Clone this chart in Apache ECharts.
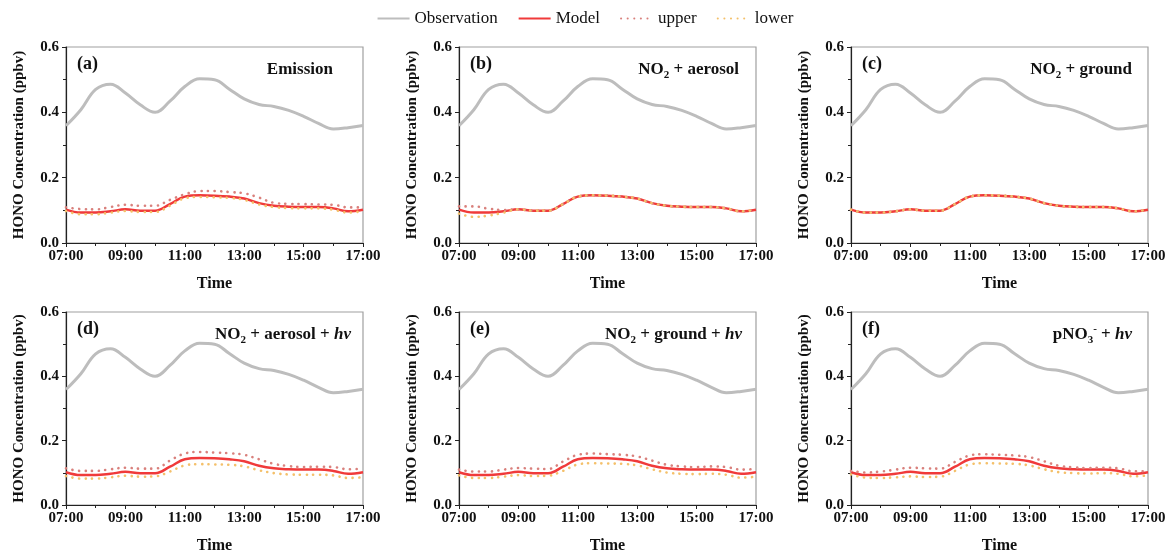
<!DOCTYPE html>
<html><head><meta charset="utf-8">
<script src="https://cdn.jsdelivr.net/npm/echarts@6/dist/echarts.min.js"></script>
<style>html,body{margin:0;padding:0;background:#fff}#c{width:1170px;height:555px}</style>
</head><body><div id="c"></div>
<script>
const times = ['07:00','07:30','08:00','08:30','09:00','09:30','10:00','10:30','11:00','11:30','12:00','12:30','13:00','13:30','14:00','14:30','15:00','15:30','16:00','16:30','17:00'];
const xTicks = ['07:00','09:00','11:00','13:00','15:00','17:00'];
const yTicks = [0.0, 0.2, 0.4, 0.6];
const observation = [0.359,0.408,0.470,0.486,0.459,0.423,0.400,0.434,0.479,0.503,0.500,0.471,0.441,0.424,0.418,0.406,0.388,0.366,0.349,0.353,0.360];
const model = [0.102,0.093,0.093,0.097,0.103,0.099,0.099,0.119,0.142,0.146,0.145,0.142,0.136,0.122,0.114,0.111,0.110,0.110,0.106,0.097,0.102];
const upperA = [0.109,0.104,0.103,0.110,0.117,0.114,0.114,0.132,0.149,0.159,0.159,0.156,0.152,0.139,0.123,0.120,0.119,0.118,0.117,0.109,0.109];
const lowerA = [0.098,0.088,0.088,0.093,0.098,0.095,0.095,0.114,0.137,0.141,0.140,0.138,0.132,0.118,0.110,0.107,0.106,0.106,0.102,0.093,0.098];
const upperB = [0.112,0.112,0.105,0.101,0.103,0.099,0.099,0.119,0.142,0.146,0.145,0.142,0.136,0.122,0.114,0.111,0.110,0.110,0.106,0.097,0.102];
const lowerB = [0.090,0.080,0.084,0.093,0.103,0.099,0.099,0.119,0.142,0.146,0.145,0.142,0.136,0.122,0.114,0.111,0.110,0.110,0.106,0.097,0.102];
const upperC = model.slice();
const lowerC = model.slice();
const upperD = [0.114,0.106,0.106,0.111,0.116,0.113,0.113,0.138,0.160,0.165,0.163,0.161,0.156,0.142,0.128,0.121,0.118,0.119,0.118,0.111,0.113];
const lowerD = [0.090,0.082,0.082,0.086,0.091,0.088,0.089,0.104,0.123,0.127,0.126,0.125,0.120,0.108,0.099,0.095,0.094,0.094,0.092,0.084,0.086];
const upperE = [0.110,0.104,0.104,0.110,0.115,0.113,0.112,0.135,0.156,0.160,0.158,0.156,0.151,0.138,0.125,0.120,0.118,0.120,0.118,0.110,0.112];
const lowerE = [0.092,0.084,0.084,0.088,0.093,0.090,0.091,0.106,0.126,0.130,0.129,0.128,0.123,0.111,0.101,0.097,0.096,0.097,0.094,0.085,0.088];
const upperF = [0.106,0.101,0.104,0.110,0.116,0.114,0.113,0.134,0.154,0.158,0.156,0.154,0.149,0.136,0.122,0.117,0.115,0.116,0.114,0.105,0.105];
const lowerF = [0.095,0.085,0.084,0.086,0.089,0.087,0.088,0.106,0.126,0.130,0.129,0.128,0.123,0.111,0.102,0.099,0.098,0.099,0.097,0.089,0.092];

const panels = [
  {label:'(a)', title:'{b|Emission}', up:upperA, lo:lowerA, pad:25},
  {label:'(b)', title:'{b|NO}{sub|2}{b| + aerosol}', up:upperB, lo:lowerB, pad:12},
  {label:'(c)', title:'{b|NO}{sub|2}{b| + ground}', up:upperC, lo:lowerC, pad:11},
  {label:'(d)', title:'{b|NO}{sub|2}{b| + aerosol + }{i|hv}', up:upperD, lo:lowerD, pad:7},
  {label:'(e)', title:'{b|NO}{sub|2}{b| + ground + }{i|hv}', up:upperE, lo:lowerE, pad:9},
  {label:'(f)', title:'{b|pNO}{sub|3}{sup|-}{b| + }{i|hv}', up:upperF, lo:lowerF, pad:11}
];

const FONT = '"Liberation Serif", "Times New Roman", serif';
const lefts = [66, 459, 851];
const tops = [47, 312];
const W = 297, H = 196;
const SMOOTH = 0.4;
const toHour = t => { const p = t.split(':'); return +p[0] + (+p[1])/60; };
const pairs = arr => arr.map((v,i)=>[toHour(times[i]), v]);
const xMin = toHour(xTicks[0]), xMax = toHour(xTicks[xTicks.length-1]);

const grids=[], xAxes=[], yAxes=[], series=[], titles=[];
const rich = {
  b:{fontFamily:FONT,fontWeight:'bold',fontSize:17,color:'#111',lineHeight:22},
  i:{fontFamily:FONT,fontWeight:'bold',fontStyle:'italic',fontSize:17,color:'#111',lineHeight:22},
  sub:{fontFamily:FONT,fontWeight:'bold',fontSize:11,color:'#111',lineHeight:12,verticalAlign:'bottom'},
  sup:{fontFamily:FONT,fontWeight:'bold',fontSize:11,color:'#111',lineHeight:12,verticalAlign:'top'}
};
panels.forEach((p, k) => {
  const r = Math.floor(k/3), c = k%3;
  const left = lefts[c], top = tops[r];
  grids.push({left:left, top:top, width:W, height:H, show:true, borderColor:'#a0a0a0', borderWidth:1.2, backgroundColor:'transparent'});
  xAxes.push({type:'value', gridIndex:k, min:xMin, max:xMax, interval:2,
    name:'Time', nameLocation:'middle', nameGap:33,
    nameTextStyle:{fontFamily:FONT,fontWeight:'bold',fontSize:16,color:'#111'},
    axisLine:{onZero:false,lineStyle:{color:'#222',width:1.2}},
    axisTick:{length:4,lineStyle:{color:'#222'}},
    minorTick:{show:true,splitNumber:2,length:3,lineStyle:{color:'#222'}},
    splitLine:{show:false},
    axisLabel:{fontFamily:FONT,fontWeight:'bold',fontSize:15,color:'#111',margin:6,
      formatter:v=>{const h=Math.round(v);return (h<10?'0':'')+h+':00';}}
  });
  yAxes.push({type:'value', gridIndex:k, min:yTicks[0], max:yTicks[yTicks.length-1], interval:0.2,
    name:'HONO Concentration (ppbv)', nameLocation:'middle', nameGap:39,
    nameTextStyle:{fontFamily:FONT,fontWeight:'bold',fontSize:15,color:'#111'},
    axisLine:{show:true,lineStyle:{color:'#222',width:1.2}},
    axisTick:{show:true,length:4,lineStyle:{color:'#222'}},
    minorTick:{show:true,splitNumber:2,length:3,lineStyle:{color:'#222'}},
    splitLine:{show:false},
    axisLabel:{fontFamily:FONT,fontWeight:'bold',fontSize:15,color:'#111',margin:7,formatter:v=>v.toFixed(1)}
  });
  titles.push({text:p.label, left:left+6, top:top+3, textStyle:{fontFamily:FONT,fontWeight:'bold',fontSize:18,color:'#111'}});
  titles.push({text:p.title, right:1170-(left+W-p.pad), top:top+7, textStyle:{rich:rich}});
  series.push({name:'Observation', type:'line', xAxisIndex:k, yAxisIndex:k, data:pairs(observation), smooth:SMOOTH, showSymbol:false, symbol:'none',
    lineStyle:{color:'#bdbdbd', width:3}, itemStyle:{color:'#bdbdbd'}, z:2});
  series.push({name:'Model', type:'line', xAxisIndex:k, yAxisIndex:k, data:pairs(model), smooth:SMOOTH, showSymbol:false, symbol:'none',
    lineStyle:{color:'#f03a3a', width:2.5}, itemStyle:{color:'#f03a3a'}, z:3});
  series.push({name:'upper', type:'line', xAxisIndex:k, yAxisIndex:k, data:pairs(p.up), smooth:SMOOTH, showSymbol:false, symbol:'none',
    lineStyle:{color:'#d9807c', width:2.6, type:[0.1,6.5], cap:'round'}, itemStyle:{color:'#d9807c'}, z:4});
  series.push({name:'lower', type:'line', xAxisIndex:k, yAxisIndex:k, data:pairs(p.lo), smooth:SMOOTH, showSymbol:false, symbol:'none',
    lineStyle:{color:'#f4c06a', width:2.6, type:[0.1,6.5], cap:'round'}, itemStyle:{color:'#f4c06a'}, z:5});
});

const chart = echarts.init(document.getElementById('c'), null, {renderer:'canvas'});
chart.setOption({
  animation:false,
  backgroundColor:'#fff',
  title: titles,
  legend:{data:['Observation','Model','upper','lower'], top:5, left:'center', itemWidth:32, itemHeight:12, itemGap:20,
    itemStyle:{opacity:0},
    textStyle:{fontFamily:FONT,fontSize:17,color:'#111'}},
  grid:grids, xAxis:xAxes, yAxis:yAxes, series:series
});
</script></body></html>
